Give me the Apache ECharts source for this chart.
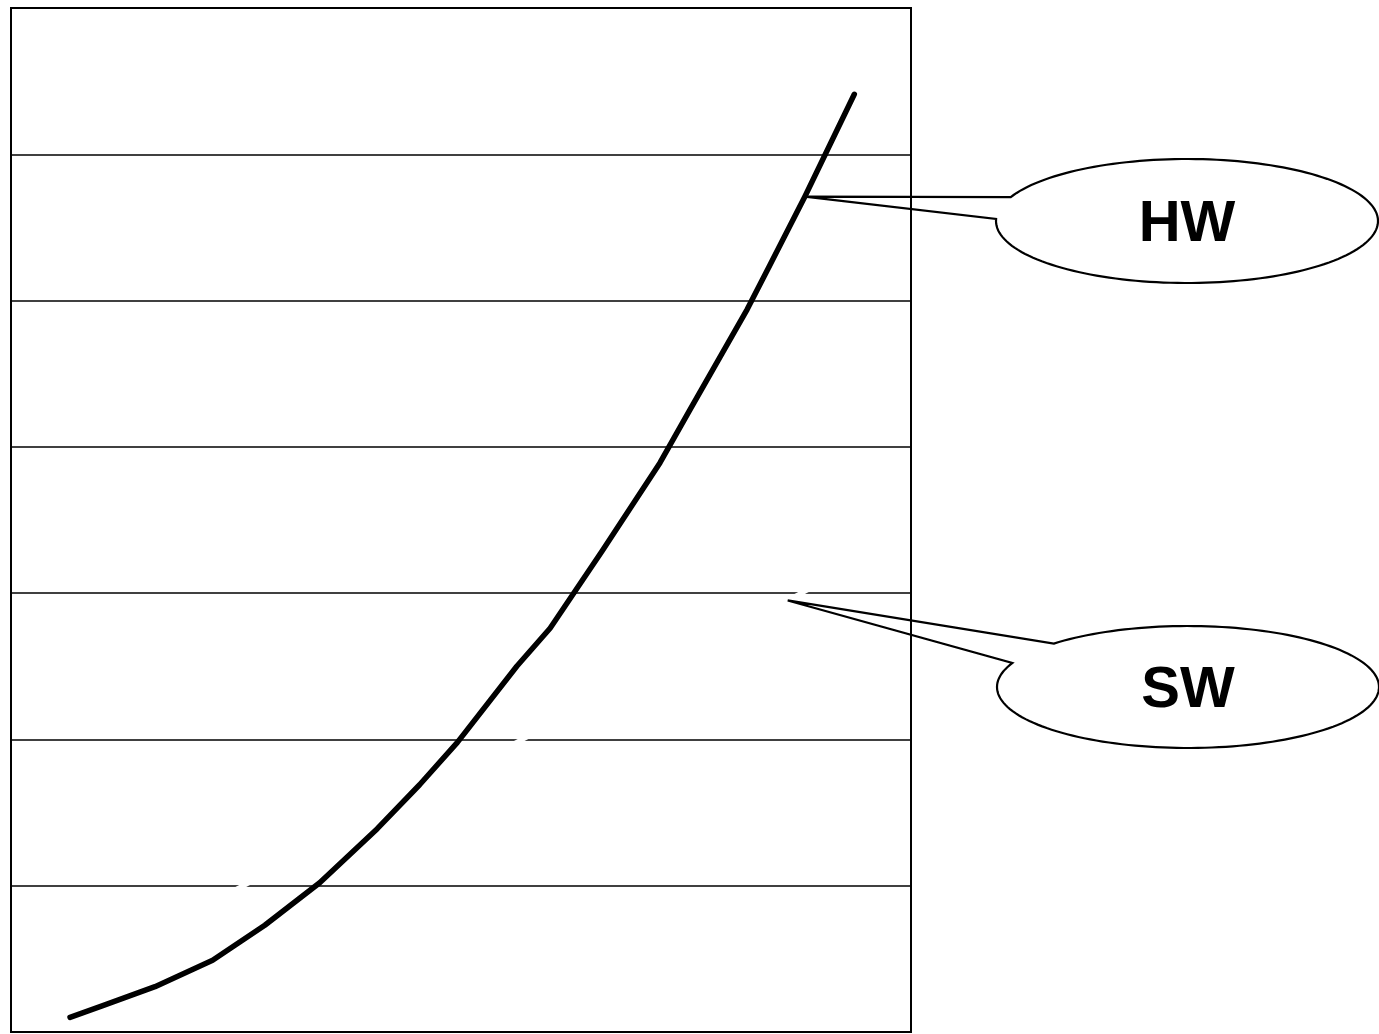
<!DOCTYPE html>
<html>
<head>
<meta charset="utf-8">
<script src="https://cdn.jsdelivr.net/npm/echarts@6/dist/echarts.min.js"></script>
<style>
html,body{margin:0;padding:0;background:#fff;}
#chart{width:1379px;height:1034px;}
</style>
</head>
<body>
<div id="chart"></div>
<script>
// Data
const hwX = [6.56, 10.2, 16.0, 22.4, 28.2, 34.3, 40.7, 45.4, 49.6, 56.2, 59.9, 65.7, 72.1, 75.4, 81.8, 84.3, 88.2, 93.7];
const hwY = [0.10, 0.18, 0.31, 0.49, 0.73, 1.02, 1.39, 1.69, 1.98, 2.50, 2.76, 3.29, 3.89, 4.25, 4.94, 5.24, 5.71, 6.41];
const swX = [6.56, 93.7];
const swY = [0.38, 3.19];
const labels = ['HW', 'SW'];
const anchors = [[88.2, 5.71], [86.3, 2.95]];

const chart = echarts.init(document.getElementById('chart'), null, {renderer: 'canvas'});

const option = {
  animation: false,
  backgroundColor: '#fff',
  grid: {left: 11, top: 8, right: 468, bottom: 2, show: true, borderColor: '#000', borderWidth: 2, backgroundColor: 'transparent'},
  xAxis: {type: 'value', min: 0, max: 100, show: true,
    axisLine: {show: false}, axisTick: {show: false}, axisLabel: {show: false}, splitLine: {show: false}},
  yAxis: {type: 'value', min: 0, max: 7, interval: 1,
    axisLine: {show: false}, axisTick: {show: false}, axisLabel: {show: false},
    splitLine: {show: true, lineStyle: {color: '#000', width: 1.6}}},
  series: [
    {name: 'SW', type: 'line', data: swX.map((x, i) => [x, swY[i]]), symbol: 'none', z: 2,
      lineStyle: {color: '#fff', width: 5}},
    {name: 'HW', type: 'line', data: hwX.map((x, i) => [x, hwY[i]]), symbol: 'none', z: 3,
      lineStyle: {color: '#000', width: 5.5, cap: 'round', join: 'round'}}
  ]
};
chart.setOption(option);

// Callouts (balloon shapes) anchored to data points
function balloon(tip, cx, cy, rx, ry, j1, j2) {
  const t1 = Math.atan2((j1[1] - cy) / ry, (j1[0] - cx) / rx);
  let t2 = Math.atan2((j2[1] - cy) / ry, (j2[0] - cx) / rx);
  while (t2 <= t1) t2 += Math.PI * 2;
  const pts = [];
  const n = 160;
  for (let i = 0; i <= n; i++) {
    const t = t1 + (t2 - t1) * i / n;
    pts.push([cx + rx * Math.cos(t), cy + ry * Math.sin(t)]);
  }
  pts.push(tip);
  return pts;
}
const hwTip = chart.convertToPixel({gridIndex: 0}, anchors[0]);
const swTip = chart.convertToPixel({gridIndex: 0}, anchors[1]);
const ell = [
  {cx: 1187, cy: 221, rx: 191, ry: 62, j1: [1010, 197], j2: [998, 219], tip: hwTip},
  {cx: 1188, cy: 687, rx: 191, ry: 61, j1: [1052, 643], j2: [1012, 663], tip: swTip}
];
const graphics = [];
ell.forEach((e, i) => {
  graphics.push({type: 'polygon', z: 10,
    shape: {points: balloon(e.tip, e.cx, e.cy, e.rx, e.ry, e.j1, e.j2)},
    style: {fill: 'transparent', stroke: '#000', lineWidth: 2.2, lineJoin: 'miter'}});
  graphics.push({type: 'text', z: 11, x: e.cx, y: e.cy + 4,
    style: {text: labels[i], fill: '#000', font: 'bold 58px "Liberation Sans", Arial, sans-serif',
      textAlign: 'center', textVerticalAlign: 'middle'}});
});
chart.setOption({graphic: graphics});
</script>
</body>
</html>
